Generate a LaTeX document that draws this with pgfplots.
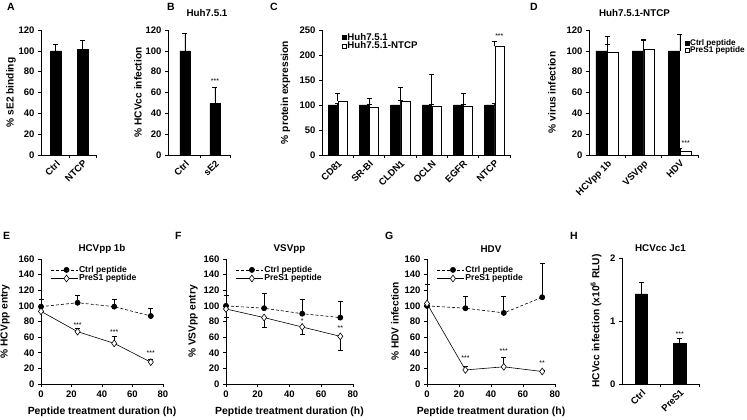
\documentclass[border=0pt]{standalone}
\usepackage{pgfplots}
\pgfplotsset{compat=1.18}
\usepackage{fontspec}
\setmainfont{Liberation Sans}
\newcommand{\fs}[1]{\fontsize{#1}{#1}\selectfont}
\pgfplotsset{
  base/.style={
    scale only axis, anchor=south west,
    axis x line*=bottom, axis y line*=left,
    axis line style={line width=0.6pt, -},
    tick style={line width=0.6pt, black},
    tick align=outside,
    major tick length=3pt, minor tick length=3pt,
    ticklabel style={font=\bfseries\fs{9.5}},
    /pgf/number format/assume math mode=true,
    ymin=0, clip=false,
  },
  yl/.style={every axis y label/.style={at={(axis description cs:0,0.5)}, xshift=-#1pt, rotate=90, anchor=center, font=\bfseries\fs{10.2}}},
  xl/.style={every axis x label/.style={at={(axis description cs:0.5,0)}, yshift=-#1pt, anchor=center, font=\bfseries\fs{10.4}}},
  tt/.style={every axis title/.style={at={(axis description cs:0.5,1)}, yshift=#1pt, anchor=center, font=\bfseries\fs{9.8}}},
  barax/.style={base,
    x tick label style={rotate=45, anchor=north east, inner sep=1pt},
    major x tick style={draw=none},
  },
  eb/.style={/pgfplots/error bars/y dir=plus, /pgfplots/error bars/y explicit,
     /pgfplots/error bars/error bar style={line width=0.6pt, black, solid},
     /pgfplots/error bars/error mark options={rotate=90, mark size=2.5pt, line width=0.6pt, black, solid}},
  ebm/.style={/pgfplots/error bars/y dir=minus, /pgfplots/error bars/y explicit,
     /pgfplots/error bars/error bar style={line width=0.6pt, black, solid},
     /pgfplots/error bars/error mark options={rotate=90, mark size=2.5pt, line width=0.6pt, black, solid}},
  blk/.style={ybar, fill=black, draw=black, line width=0.6pt},
  wht/.style={ybar, fill=white, draw=black, line width=0.6pt},
  sqleg/.style={legend image code/.code={\draw[##1, line width=0.5pt] (0pt,-2pt) rectangle (4pt,2pt);}},
  lnleg/.style={legend image code/.code={\draw[mark repeat=2, mark phase=2, ##1] plot coordinates {(0pt,0pt) (16pt,0pt) (27pt,0pt)};}},
  ctrl/.style={black, line width=0.6pt, dash pattern=on 3pt off 2pt, mark=*, mark size=2.6pt, mark options={solid, fill=black}},
  pres/.style={black, line width=0.6pt, solid, mark=diamond*, mark size=3.4pt, mark options={solid, fill=white}},
  lineax/.style={base, xmin=0, xmax=80, xtick={0,20,40,60,80}, ymax=160, ytick={0,20,...,160},
    width=122pt, height=125pt, xl=28, tt=10,
    xlabel={Peptide treatment duration (h)},
    legend style={draw=none, fill=none, anchor=north west, font=\bfseries\fs{8.6}, inner sep=0pt, row sep=-1.5pt, nodes={inner sep=1.2pt}},
    legend cell align=left},
}
\begin{document}
\begin{tikzpicture}
\path[use as bounding box] (0,0) rectangle (747pt,420pt);
% panel letters
\foreach \L/\x/\y in {A/7/3, B/167/3, C/270/3, D/530/3, E/3/232, F/175/232, G/385/232, H/570/232}
  \node[anchor=north west, inner sep=0pt, font=\bfseries\fs{10.5}] at (\x pt, 420pt-\y pt) {\L};

% ---------- A ----------
\begin{axis}[barax, at={(41pt,265pt)}, width=55pt, height=125pt,
  xmin=-0.55, xmax=1.5, ymax=120, ytick={0,20,...,120},
  xtick={0,1}, xticklabels={Ctrl,NTCP}, minor xtick={0.5,1.5},
  yl=30, ylabel={\% sE2 binding}]
\addplot[blk, bar width=0.41, eb] table[x=x, y=y, y error=e] {
x y e
0 100 6
1 101 9
};
\end{axis}

% ---------- B ----------
\begin{axis}[barax, at={(168pt,265pt)}, width=62pt, height=125pt,
  xmin=-0.56, xmax=1.5, ymax=120, ytick={0,20,...,120},
  xtick={0,1}, xticklabels={Ctrl,sE2}, minor xtick={0.5,1.5},
  yl=30, ylabel={\% HCVcc infection},
  tt=17, title={Huh7.5.1}, title style={xshift=8pt}]
\addplot[blk, bar width=0.33, eb] table[x=x, y=y, y error=e] {
x y e
0 100 16.5
1 49.6 15.5
};
\node[font=\fs{7}] at (axis cs:1,71) {***};
\end{axis}

% ---------- C ----------
\begin{axis}[barax, at={(322pt,265pt)}, width=188pt, height=125pt,
  xmin=-0.5, xmax=5.5, ymax=250, ytick={0,50,...,250},
  xtick={0,1,2,3,4,5}, xticklabels={CD81,SR-BI,CLDN1,OCLN,EGFR,NTCP},
  minor xtick={0.5,1.5,2.5,3.5,4.5,5.5},
  yl=36.5, ylabel={\% protein expression},
  legend style={draw=none, fill=none, at={(0.105,0.985)}, anchor=north west, font=\bfseries\fs{9.7}, inner sep=0pt, row sep=-2pt, nodes={inner sep=1pt}},
  legend cell align=left]
\addplot[blk, bar width=0.29, bar shift=-0.16, sqleg, eb] table[x=x, y=y, y error=e] {
x y e
0 100 4
1 100 2
2 100 9
3 100 1.5
4 100 1.5
5 100 4
};
\addlegendentry{Huh7.5.1}
\addplot[wht, bar width=0.29, bar shift=0.16, sqleg, eb] table[x=x, y=y, y error=e] {
x y e
0 107 17
1 96 17
2 108 27
3 98 64
4 98 26
5 217 10
};
\addlegendentry{Huh7.5.1-NTCP}
\node[font=\fs{7}] at (axis cs:5.16,238) {***};
\end{axis}

% ---------- D ----------
\begin{axis}[barax, at={(589pt,265pt)}, width=109pt, height=125pt,
  xmin=-0.5, xmax=2.5, ymax=120, ytick={0,20,...,120},
  xtick={0,1,2}, xticklabels={HCVpp 1b,VSVpp,HDV}, minor xtick={0.5,1.5,2.5},
  yl=37, ylabel={\% virus infection},
  tt=17, title={Huh7.5.1-NTCP}, title style={xshift=-9pt},
  legend style={draw=none, fill=none, at={(0.875,0.935)}, anchor=north west, font=\bfseries\fs{8.2}, inner sep=0pt, row sep=-2.5pt, nodes={inner sep=1pt}},
  legend cell align=left]
\addplot[blk, bar width=0.3, bar shift=-0.16, sqleg, eb] table[x=x, y=y, y error=e] {
x y e
0 100 6
1 100 10
2 100 16
};
\addlegendentry{Ctrl peptide}
\addplot[wht, bar width=0.3, bar shift=0.16, sqleg, eb] table[x=x, y=y, y error=e] {
x y e
0 99 14.5
1 101 10
2 4 2.5
};
\addlegendentry{PreS1 peptide}
\node[font=\fs{7}] at (axis cs:2.16,11) {***};
\end{axis}

% ---------- E ----------
\begin{axis}[lineax, at={(41pt,36pt)}, yl=36, ylabel={\% HCVpp entry},
  title={HCVpp 1b}, legend style={at={(0.074,0.955)}}]
\addplot[ctrl, lnleg, eb] table[x=x, y=y, y error=e] {
x y e
0 99 9
24 104 9
48 99 9.5
72 87 9.5
};
\addlegendentry{Ctrl peptide}
\addplot[pres, lnleg, eb] table[x=x, y=y, y error=e] {
x y e
0 93 0
24 67 4.5
48 52 8.5
72 28 4
};
\addlegendentry{PreS1 peptide}
\node[font=\fs{7}] at (axis cs:24,76) {***};
\node[font=\fs{7}] at (axis cs:48,67) {***};
\node[font=\fs{7}] at (axis cs:72,39) {***};
\end{axis}

% ---------- F ----------
\begin{axis}[lineax, at={(226pt,36pt)}, width=127pt, yl=33, ylabel={\% VSVpp entry},
  title={VSVpp}, legend style={at={(0.074,0.955)}}]
\addplot[ctrl, lnleg, eb] table[x=x, y=y, y error=e] {
x y e
0 100 13
24 97 19
48 90 18
72 85 21
};
\addlegendentry{Ctrl peptide}
\addplot[pres, lnleg, ebm] table[x=x, y=y, y error=e] {
x y e
0 96 10
24 85 12
48 73 9
72 61 18
};
\addlegendentry{PreS1 peptide}
\node[font=\fs{7}] at (axis cs:48,81) {*};
\node[font=\fs{7}] at (axis cs:72,71) {**};
\end{axis}

% ---------- G ----------
\begin{axis}[lineax, at={(427pt,36pt)}, width=128pt, yl=32, ylabel={\% HDV infection},
  title={HDV}, legend style={at={(0.074,0.955)}}]
\addplot[ctrl, lnleg, eb] table[x=x, y=y, y error=e] {
x y e
0 100 27
24 97 15
48 91 21
72 111 43
};
\addlegendentry{Ctrl peptide}
\addplot[pres, lnleg, eb] table[x=x, y=y, y error=e] {
x y e
0 103 0
24 18 5
48 22 12
72 16 1
};
\addlegendentry{PreS1 peptide}
\node[font=\fs{7}] at (axis cs:24,33) {***};
\node[font=\fs{7}] at (axis cs:48,42) {***};
\node[font=\fs{7}] at (axis cs:72,27) {**};
\end{axis}

% ---------- H ----------
\begin{axis}[barax, at={(622pt,36pt)}, width=77pt, height=126pt,
  xmin=-0.5, xmax=1.5, ymax=2, ytick={0,1,2},
  xtick={0,1}, xticklabels={Ctrl,PreS1}, minor xtick={0.5,1.5},
  yl=26, ylabel={HCVcc infection (x10\textsuperscript{6} RLU)},
  tt=10, title={HCVcc Jc1}]
\addplot[blk, bar width=0.32, eb] table[x=x, y=y, y error=e] {
x y e
0 1.43 0.19
1 0.65 0.08
};
\node[font=\fs{7}] at (axis cs:1,0.8) {***};
\end{axis}
\end{tikzpicture}
\end{document}
